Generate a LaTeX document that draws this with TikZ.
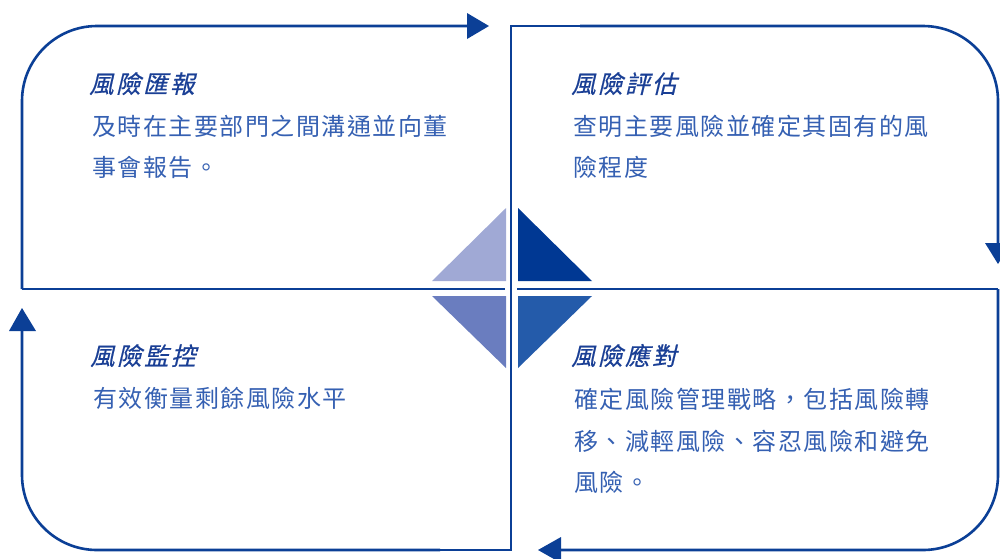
\documentclass[tikz,border=0pt]{standalone}
\usepackage{fontspec}
\newfontfamily\cjkbody{Noto Sans CJK TC}[LetterSpace=6.25]
\newfontfamily\cjktitle{Noto Sans CJK TC}[LetterSpace=10,FakeSlant=0.24,FakeBold=0.6]
\definecolor{linecol}{HTML}{0B3F96}
\definecolor{titlecol}{HTML}{1A3F95}
\definecolor{bodycol}{HTML}{3560B2}
\definecolor{triA}{HTML}{A0A9D5}
\definecolor{triB}{HTML}{003893}
\definecolor{triC}{HTML}{6A7DBF}
\definecolor{triD}{HTML}{245BAA}
\tikzset{
  frame/.style={draw=linecol, line width=2.6pt},
  round/.style={draw=linecol, line width=2.6pt, rounded corners=75pt},
  tip/.style={fill=linecol},
  ttl/.style={anchor=base west, inner sep=0pt, text=titlecol, font=\cjktitle\fontsize{24.5}{24.5}\selectfont},
  bdy/.style={anchor=base west, inner sep=0pt, text=bodycol, font=\cjkbody\fontsize{24}{24}\selectfont},
}
\begin{document}
\begin{tikzpicture}[x=1pt,y=-1pt]
\useasboundingbox (0,0) rectangle (1000,558);
% centre triangles
\fill[triA] (432,281) -- (506,208) -- (506,281) -- cycle;
\fill[triB] (518,208) -- (518,281) -- (592,281) -- cycle;
\fill[triC] (432,296) -- (506,296) -- (506,368) -- cycle;
\fill[triD] (518,296) -- (592,296) -- (518,368) -- cycle;
% frames
\draw[round] (22,289) -- (22,26) -- (467,26);
\draw[frame] (511,289) -- (511,26) -- (600,26);
\draw[round] (580,26) -- (998,26) -- (998,244);
\draw[round] (998,289) -- (998,550) -- (561,550);
\draw[frame] (511,289) -- (511,550) -- (420,550);
\draw[round] (440,550) -- (22,550) -- (22,331);
\draw[frame] (22,289) -- (505,289);
\draw[frame] (517,289) -- (998,289);
% arrow heads
\fill[tip] (467,13) -- (467,39) -- (489,26) -- cycle;
\fill[tip] (985,243) -- (1011,243) -- (998,264) -- cycle;
\fill[tip] (561,537) -- (561,563) -- (538,550) -- cycle;
\fill[tip] (9,331) -- (36,331) -- (22,308) -- cycle;
% texts
\node[ttl] (t1) at (89,93) {風險匯報};
\node[bdy] (b1a) at (92,135) {及時在主要部門之間溝通並向董};
\node[bdy] (b1b) at (92,176) {事會報告。};
\node[ttl] (t2) at (571,93) {風險評估};
\node[bdy] (b2a) at (573,135) {查明主要風險並確定其固有的風};
\node[bdy] (b2b) at (573,176) {險程度};
\node[ttl] (t3) at (90,365) {風險監控};
\node[bdy] (b3a) at (93,407) {有效衡量剩餘風險水平};
\node[ttl] (t4) at (571,365) {風險應對};
\node[bdy] (b4a) at (574,408) {確定風險管理戰略，包括風險轉};
\node[bdy] (b4b) at (574,450) {移、減輕風險、容忍風險和避免};
\node[bdy] (b4c) at (574,491) {風險。};
\end{tikzpicture}
\end{document}
